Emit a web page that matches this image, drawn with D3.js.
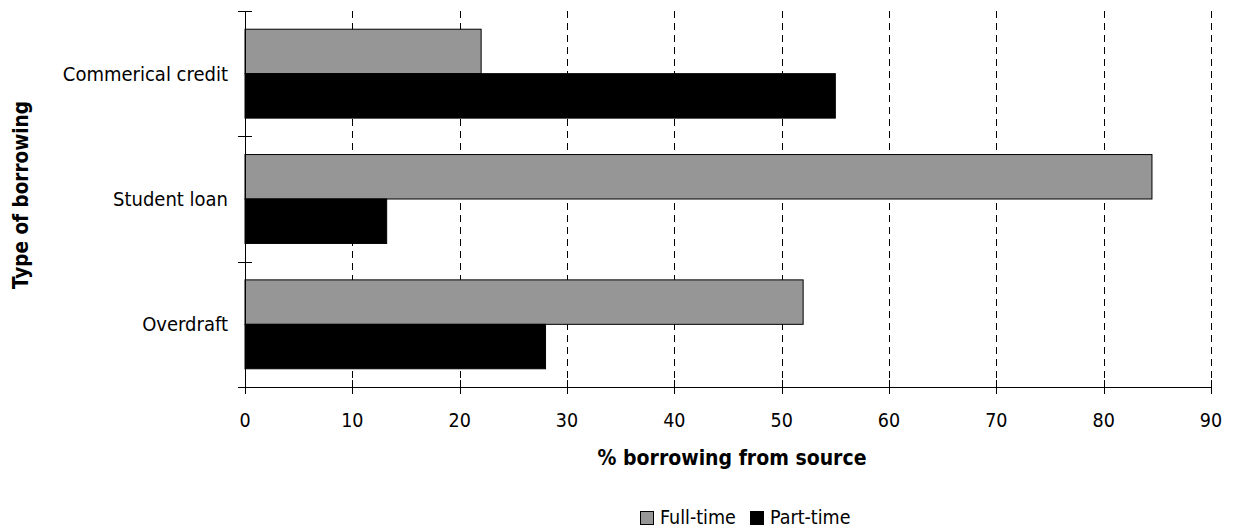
<!DOCTYPE html>
<html>
<head>
<meta charset="utf-8">
<script src="https://cdn.jsdelivr.net/npm/d3@7"></script>
<style>
  html, body { margin: 0; padding: 0; background: #fff; }
  svg { display: block; }
  text { font-family: "DejaVu Sans Condensed", "DejaVu Sans", sans-serif; fill: #000; }
</style>
</head>
<body>
<svg id="chart" width="1234" height="530"></svg>
<script>
// Type of borrowing, listed top to bottom
const categories = ["Commerical credit", "Student loan", "Overdraft"];
const seriesNames = ["Full-time", "Part-time"];
const fullTime = [22, 84.5, 52];
const partTime = [55, 13.2, 28];
const xTicks = [0, 10, 20, 30, 40, 50, 60, 70, 80, 90];
const seriesColors = ["#969696", "#000000"];

const svg = d3.select("#chart");
const plot = { left: 245, right: 1211, top: 11, bottom: 387 };

const x = d3.scaleLinear().domain([0, 90]).range([plot.left, plot.right]);
const y = d3.scaleBand().domain(categories).range([plot.top, plot.bottom]).padding(0);
const ySub = d3.scaleBand().domain(seriesNames).range([0, y.bandwidth()])
  .paddingInner(0).paddingOuter(0.41);

const values = { "Full-time": fullTime, "Part-time": partTime };

// dashed vertical gridlines
svg.append("g")
  .selectAll("line")
  .data(xTicks.filter(d => d > 0))
  .join("line")
  .attr("x1", d => Math.round(x(d)) + 0.5)
  .attr("x2", d => Math.round(x(d)) + 0.5)
  .attr("y1", plot.top)
  .attr("y2", plot.bottom)
  .attr("stroke", "#000")
  .attr("stroke-width", 1)
  .attr("stroke-dasharray", "7,5");

// bars
const groups = svg.append("g").selectAll("g")
  .data(categories)
  .join("g")
  .attr("transform", c => `translate(0,${y(c)})`);

groups.selectAll("rect")
  .data((c, i) => seriesNames.map((s, k) => ({ s, k, v: values[s][i] })))
  .join("rect")
  .attr("x", x(0))
  .attr("y", d => ySub(d.s))
  .attr("width", d => x(d.v) - x(0))
  .attr("height", ySub.bandwidth())
  .attr("fill", d => seriesColors[d.k])
  .attr("stroke", "#000")
  .attr("stroke-width", 1);

// x axis with ticks crossing the line
const xAxis = svg.append("g").attr("transform", `translate(0,${plot.bottom})`);
xAxis.append("line")
  .attr("x1", plot.left - 7).attr("x2", plot.right)
  .attr("y1", 0.5).attr("y2", 0.5)
  .attr("stroke", "#000");
xAxis.selectAll("line.tick")
  .data(xTicks)
  .join("line")
  .attr("class", "tick")
  .attr("x1", d => Math.round(x(d)) + 0.5)
  .attr("x2", d => Math.round(x(d)) + 0.5)
  .attr("y1", -7).attr("y2", 7)
  .attr("stroke", "#000");
xAxis.selectAll("text")
  .data(xTicks)
  .join("text")
  .attr("x", d => x(d))
  .attr("y", 40)
  .attr("text-anchor", "middle")
  .style("font-size", "19.5px")
  .text(d => d);

// y axis with ticks at category boundaries
const yAxis = svg.append("g");
yAxis.append("line")
  .attr("x1", plot.left + 0.5).attr("x2", plot.left + 0.5)
  .attr("y1", plot.top).attr("y2", plot.bottom)
  .attr("stroke", "#000");
const boundaries = categories.map(c => y(c)).concat([y.range()[1]]);
yAxis.selectAll("line.tick")
  .data(boundaries)
  .join("line")
  .attr("class", "tick")
  .attr("x1", plot.left - 7).attr("x2", plot.left + 7)
  .attr("y1", d => Math.round(d) + 0.5)
  .attr("y2", d => Math.round(d) + 0.5)
  .attr("stroke", "#000");
yAxis.selectAll("text")
  .data(categories)
  .join("text")
  .attr("x", 228)
  .attr("y", c => y(c) + y.bandwidth() / 2 + 7)
  .attr("text-anchor", "end")
  .style("font-size", "20px")
  .text(c => c);

// axis titles
svg.append("text")
  .attr("x", 732)
  .attr("y", 465)
  .attr("text-anchor", "middle")
  .style("font-size", "21px")
  .style("font-weight", "bold")
  .text("% borrowing from source");

svg.append("text")
  .attr("transform", `translate(28,${(plot.top + plot.bottom) / 2 - 4}) rotate(-90)`)
  .attr("text-anchor", "middle")
  .style("font-size", "20.5px")
  .style("font-weight", "bold")
  .text("Type of borrowing");

// legend
const legend = svg.append("g").attr("transform", "translate(640,511)");
const legendItems = legend.selectAll("g")
  .data(seriesNames)
  .join("g")
  .attr("transform", (d, i) => `translate(${i * 110},0)`);
legendItems.append("rect")
  .attr("x", 0.5).attr("y", 0.5)
  .attr("width", 13).attr("height", 13)
  .attr("fill", (d, i) => seriesColors[i])
  .attr("stroke", "#000");
legendItems.append("text")
  .attr("x", 20)
  .attr("y", 13)
  .style("font-size", "19.5px")
  .text(d => d);
</script>
</body>
</html>
